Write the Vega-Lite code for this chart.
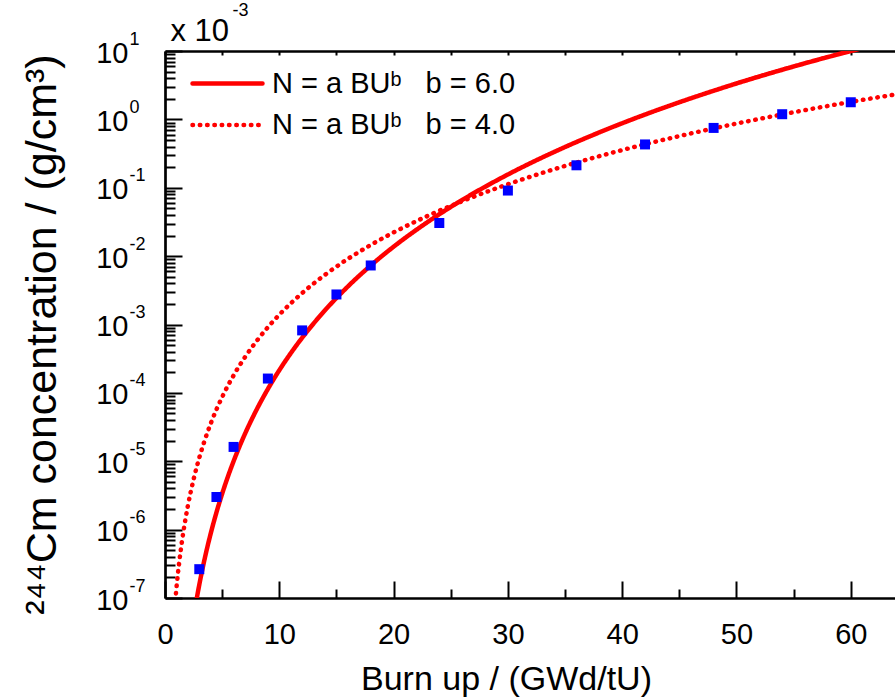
{
  "$schema": "https://vega.github.io/schema/vega-lite/v6.json",
  "width": 730,
  "height": 547,
  "autosize": {"type": "none"},
  "padding": {"left": 165, "top": 51, "right": 0, "bottom": 99},
  "datasets": {
    "curves": [
      {"fit": "N = a BUᵇ\u00a0\u00a0\u00a0b = 6.0", "burnup": 2.6, "conc": 6.62e-8},
      {"fit": "N = a BUᵇ\u00a0\u00a0\u00a0b = 6.0", "burnup": 2.8, "conc": 1.033e-7},
      {"fit": "N = a BUᵇ\u00a0\u00a0\u00a0b = 6.0", "burnup": 3.0, "conc": 1.5625e-7},
      {"fit": "N = a BUᵇ\u00a0\u00a0\u00a0b = 6.0", "burnup": 3.25, "conc": 2.526e-7},
      {"fit": "N = a BUᵇ\u00a0\u00a0\u00a0b = 6.0", "burnup": 3.5, "conc": 3.94e-7},
      {"fit": "N = a BUᵇ\u00a0\u00a0\u00a0b = 6.0", "burnup": 3.75, "conc": 5.96e-7},
      {"fit": "N = a BUᵇ\u00a0\u00a0\u00a0b = 6.0", "burnup": 4.0, "conc": 8.779e-7},
      {"fit": "N = a BUᵇ\u00a0\u00a0\u00a0b = 6.0", "burnup": 4.5, "conc": 1.78e-6},
      {"fit": "N = a BUᵇ\u00a0\u00a0\u00a0b = 6.0", "burnup": 5.0, "conc": 3.349e-6},
      {"fit": "N = a BUᵇ\u00a0\u00a0\u00a0b = 6.0", "burnup": 5.5, "conc": 5.933e-6},
      {"fit": "N = a BUᵇ\u00a0\u00a0\u00a0b = 6.0", "burnup": 6.0, "conc": 1.0e-5},
      {"fit": "N = a BUᵇ\u00a0\u00a0\u00a0b = 6.0", "burnup": 7.0, "conc": 2.522e-5},
      {"fit": "N = a BUᵇ\u00a0\u00a0\u00a0b = 6.0", "burnup": 8.0, "conc": 5.619e-5},
      {"fit": "N = a BUᵇ\u00a0\u00a0\u00a0b = 6.0", "burnup": 9.0, "conc": 1.139e-4},
      {"fit": "N = a BUᵇ\u00a0\u00a0\u00a0b = 6.0", "burnup": 10.0, "conc": 2.143e-4},
      {"fit": "N = a BUᵇ\u00a0\u00a0\u00a0b = 6.0", "burnup": 11.0, "conc": 3.797e-4},
      {"fit": "N = a BUᵇ\u00a0\u00a0\u00a0b = 6.0", "burnup": 12.0, "conc": 6.4e-4},
      {"fit": "N = a BUᵇ\u00a0\u00a0\u00a0b = 6.0", "burnup": 14.0, "conc": 1.614e-3},
      {"fit": "N = a BUᵇ\u00a0\u00a0\u00a0b = 6.0", "burnup": 16.0, "conc": 3.596e-3},
      {"fit": "N = a BUᵇ\u00a0\u00a0\u00a0b = 6.0", "burnup": 18.0, "conc": 7.29e-3},
      {"fit": "N = a BUᵇ\u00a0\u00a0\u00a0b = 6.0", "burnup": 20.0, "conc": 1.372e-2},
      {"fit": "N = a BUᵇ\u00a0\u00a0\u00a0b = 6.0", "burnup": 23.0, "conc": 3.173e-2},
      {"fit": "N = a BUᵇ\u00a0\u00a0\u00a0b = 6.0", "burnup": 26.0, "conc": 6.621e-2},
      {"fit": "N = a BUᵇ\u00a0\u00a0\u00a0b = 6.0", "burnup": 30.0, "conc": 0.15625},
      {"fit": "N = a BUᵇ\u00a0\u00a0\u00a0b = 6.0", "burnup": 34.0, "conc": 0.3311},
      {"fit": "N = a BUᵇ\u00a0\u00a0\u00a0b = 6.0", "burnup": 38.0, "conc": 0.6454},
      {"fit": "N = a BUᵇ\u00a0\u00a0\u00a0b = 6.0", "burnup": 42.0, "conc": 1.1765},
      {"fit": "N = a BUᵇ\u00a0\u00a0\u00a0b = 6.0", "burnup": 46.0, "conc": 2.0307},
      {"fit": "N = a BUᵇ\u00a0\u00a0\u00a0b = 6.0", "burnup": 50.0, "conc": 3.349},
      {"fit": "N = a BUᵇ\u00a0\u00a0\u00a0b = 6.0", "burnup": 55.0, "conc": 5.933},
      {"fit": "N = a BUᵇ\u00a0\u00a0\u00a0b = 6.0", "burnup": 60.0, "conc": 10.0},
      {"fit": "N = a BUᵇ\u00a0\u00a0\u00a0b = 6.0", "burnup": 62.0, "conc": 12.17},
      {"fit": "N = a BUᵇ\u00a0\u00a0\u00a0b = 4.0", "burnup": 0.9, "conc": 9.11e-8},
      {"fit": "N = a BUᵇ\u00a0\u00a0\u00a0b = 4.0", "burnup": 1.0, "conc": 1.389e-7},
      {"fit": "N = a BUᵇ\u00a0\u00a0\u00a0b = 4.0", "burnup": 1.25, "conc": 3.391e-7},
      {"fit": "N = a BUᵇ\u00a0\u00a0\u00a0b = 4.0", "burnup": 1.5, "conc": 7.031e-7},
      {"fit": "N = a BUᵇ\u00a0\u00a0\u00a0b = 4.0", "burnup": 1.75, "conc": 1.303e-6},
      {"fit": "N = a BUᵇ\u00a0\u00a0\u00a0b = 4.0", "burnup": 2.0, "conc": 2.222e-6},
      {"fit": "N = a BUᵇ\u00a0\u00a0\u00a0b = 4.0", "burnup": 2.5, "conc": 5.425e-6},
      {"fit": "N = a BUᵇ\u00a0\u00a0\u00a0b = 4.0", "burnup": 3.0, "conc": 1.125e-5},
      {"fit": "N = a BUᵇ\u00a0\u00a0\u00a0b = 4.0", "burnup": 3.5, "conc": 2.084e-5},
      {"fit": "N = a BUᵇ\u00a0\u00a0\u00a0b = 4.0", "burnup": 4.0, "conc": 3.556e-5},
      {"fit": "N = a BUᵇ\u00a0\u00a0\u00a0b = 4.0", "burnup": 5.0, "conc": 8.681e-5},
      {"fit": "N = a BUᵇ\u00a0\u00a0\u00a0b = 4.0", "burnup": 6.0, "conc": 1.8e-4},
      {"fit": "N = a BUᵇ\u00a0\u00a0\u00a0b = 4.0", "burnup": 7.0, "conc": 3.335e-4},
      {"fit": "N = a BUᵇ\u00a0\u00a0\u00a0b = 4.0", "burnup": 8.0, "conc": 5.689e-4},
      {"fit": "N = a BUᵇ\u00a0\u00a0\u00a0b = 4.0", "burnup": 9.0, "conc": 9.113e-4},
      {"fit": "N = a BUᵇ\u00a0\u00a0\u00a0b = 4.0", "burnup": 10.0, "conc": 1.389e-3},
      {"fit": "N = a BUᵇ\u00a0\u00a0\u00a0b = 4.0", "burnup": 12.0, "conc": 2.88e-3},
      {"fit": "N = a BUᵇ\u00a0\u00a0\u00a0b = 4.0", "burnup": 14.0, "conc": 5.335e-3},
      {"fit": "N = a BUᵇ\u00a0\u00a0\u00a0b = 4.0", "burnup": 16.0, "conc": 9.102e-3},
      {"fit": "N = a BUᵇ\u00a0\u00a0\u00a0b = 4.0", "burnup": 18.0, "conc": 1.458e-2},
      {"fit": "N = a BUᵇ\u00a0\u00a0\u00a0b = 4.0", "burnup": 20.0, "conc": 2.222e-2},
      {"fit": "N = a BUᵇ\u00a0\u00a0\u00a0b = 4.0", "burnup": 23.0, "conc": 3.887e-2},
      {"fit": "N = a BUᵇ\u00a0\u00a0\u00a0b = 4.0", "burnup": 26.0, "conc": 6.347e-2},
      {"fit": "N = a BUᵇ\u00a0\u00a0\u00a0b = 4.0", "burnup": 30.0, "conc": 0.1125},
      {"fit": "N = a BUᵇ\u00a0\u00a0\u00a0b = 4.0", "burnup": 34.0, "conc": 0.1856},
      {"fit": "N = a BUᵇ\u00a0\u00a0\u00a0b = 4.0", "burnup": 38.0, "conc": 0.2896},
      {"fit": "N = a BUᵇ\u00a0\u00a0\u00a0b = 4.0", "burnup": 42.0, "conc": 0.4322},
      {"fit": "N = a BUᵇ\u00a0\u00a0\u00a0b = 4.0", "burnup": 46.0, "conc": 0.6219},
      {"fit": "N = a BUᵇ\u00a0\u00a0\u00a0b = 4.0", "burnup": 50.0, "conc": 0.8681},
      {"fit": "N = a BUᵇ\u00a0\u00a0\u00a0b = 4.0", "burnup": 55.0, "conc": 1.2709},
      {"fit": "N = a BUᵇ\u00a0\u00a0\u00a0b = 4.0", "burnup": 60.0, "conc": 1.8},
      {"fit": "N = a BUᵇ\u00a0\u00a0\u00a0b = 4.0", "burnup": 65.0, "conc": 2.479}
    ],
    "points": [
      {"burnup": 3, "conc": 2.64e-7},
      {"burnup": 4.5, "conc": 3.0e-6},
      {"burnup": 6, "conc": 1.62e-5},
      {"burnup": 9, "conc": 1.62e-4},
      {"burnup": 12, "conc": 8.2e-4},
      {"burnup": 15, "conc": 2.75e-3},
      {"burnup": 18, "conc": 7.3e-3},
      {"burnup": 24, "conc": 3.05e-2},
      {"burnup": 30, "conc": 9.1e-2},
      {"burnup": 36, "conc": 0.213},
      {"burnup": 42, "conc": 0.43},
      {"burnup": 48, "conc": 0.75},
      {"burnup": 54, "conc": 1.19},
      {"burnup": 60, "conc": 1.78}
    ]
  },
  "layer": [
    {
      "data": {"name": "curves"},
      "mark": {"type": "line", "clip": true, "strokeWidth": 4.5, "strokeCap": "round", "interpolate": "monotone"},
      "encoding": {
        "x": {"field": "burnup", "type": "quantitative",
          "scale": {"domain": [0, 63.87], "nice": false, "zero": false},
          "axis": {"orient": "bottom", "values": [0, 10, 20, 30, 40, 50, 60], "format": "d", "tickSize": -17, "tickWidth": 2, "domainWidth": 2.7, "labelFontSize": 29, "labelPadding": 39, "labelFlush": false, "labelOverlap": false,
            "title": "Burn up / (GWd/tU)", "titleFontSize": 34, "titleX": 341, "titleY": 91, "titleBaseline": "alphabetic", "titleAlign": "center", "titleAnchor": null}},
        "y": {"field": "conc", "type": "quantitative",
          "scale": {"type": "log", "domain": [1e-7, 10], "nice": false},
          "axis": {"orient": "left", "values": [1e-7, 1e-6, 1e-5, 1e-4, 1e-3, 1e-2, 1e-1, 1, 10], "tickSize": -17, "tickWidth": 2, "domainWidth": 2.7, "labelFontSize": 29, "labelPadding": 54, "labelOffset": 2, "labelFlush": false, "labelOverlap": false,
            "labelExpr": "'10'",
            "title": "²⁴⁴Cm concentration / (g/cm³)", "titleFontSize": 43, "titleAngle": 270, "titleX": -110, "titleY": 283, "titleBaseline": "alphabetic", "titleAlign": "center", "titleAnchor": null}},
        "color": {"field": "fit", "type": "nominal",
          "scale": {"domain": ["N = a BUᵇ\u00a0\u00a0\u00a0b = 6.0", "N = a BUᵇ\u00a0\u00a0\u00a0b = 4.0"], "range": ["#ff0000", "#ff0000"]},
          "legend": {"title": null, "orient": "none", "legendX": 46, "legendY": 16, "symbolType": "M-2.5,0H2.5", "symbolSize": 784, "symbolStrokeWidth": 4.5, "labelFontSize": 29, "labelOffset": 28, "rowPadding": 9.5, "padding": 0, "labelLimit": 400,
            "encode": {"symbols": {"update": {"strokeCap": {"value": "round"}}}}}},
        "strokeDash": {"field": "fit", "type": "nominal",
          "scale": {"domain": ["N = a BUᵇ\u00a0\u00a0\u00a0b = 6.0", "N = a BUᵇ\u00a0\u00a0\u00a0b = 4.0"], "range": [[1, 0], [0.5, 6.8]]},
          "legend": {"title": null, "orient": "none", "legendX": 46, "legendY": 16, "symbolType": "M-2.5,0H2.5", "symbolSize": 784, "symbolStrokeWidth": 4.5, "labelFontSize": 29, "labelOffset": 28, "rowPadding": 9.5, "padding": 0, "labelLimit": 400,
            "encode": {"symbols": {"update": {"strokeCap": {"value": "round"}}}}}}
      }
    },
    {
      "data": {"name": "points"},
      "mark": {"type": "square", "size": 100, "color": "#0000ff", "opacity": 1},
      "encoding": {
        "x": {"field": "burnup", "type": "quantitative",
          "axis": {"orient": "bottom", "values": [5, 15, 25, 35, 45, 55], "tickSize": -9, "tickWidth": 2, "domain": false, "labels": false, "title": null}},
        "y": {"field": "conc", "type": "quantitative",
          "axis": {"orient": "left", "tickSize": -10, "tickWidth": 2, "domain": false, "labels": false,
            "title": "-3", "titleFontSize": 18, "titleAngle": 0, "titleX": 67, "titleY": -36, "titleAlign": "left", "titleBaseline": "alphabetic", "titleAnchor": null,
            "values": [2e-7, 3e-7, 4e-7, 5e-7, 6e-7, 7e-7, 8e-7, 9e-7, 2e-6, 3e-6, 4e-6, 5e-6, 6e-6, 7e-6, 8e-6, 9e-6, 2e-5, 3e-5, 4e-5, 5e-5, 6e-5, 7e-5, 8e-5, 9e-5, 2e-4, 3e-4, 4e-4, 5e-4, 6e-4, 7e-4, 8e-4, 9e-4, 2e-3, 3e-3, 4e-3, 5e-3, 6e-3, 7e-3, 8e-3, 9e-3, 0.02, 0.03, 0.04, 0.05, 0.06, 0.07, 0.08, 0.09, 0.2, 0.3, 0.4, 0.5, 0.6, 0.7, 0.8, 0.9, 2, 3, 4, 5, 6, 7, 8, 9]}}
      }
    },
    {
      "data": {"name": "points"},
      "mark": {"type": "point", "opacity": 0},
      "encoding": {
        "x": {"field": "burnup", "type": "quantitative",
          "axis": {"orient": "top", "values": [0, 5, 10, 15, 20, 25, 30, 35, 40, 45, 50, 55, 60], "tickSize": -4, "tickWidth": 2, "domainWidth": 2.7, "labels": false,
            "title": "x 10", "titleFontSize": 31, "titleX": 5, "titleY": -11, "titleAlign": "left", "titleBaseline": "alphabetic", "titleAnchor": null}},
        "y": {"field": "conc", "type": "quantitative",
          "axis": {"orient": "left", "values": [1e-7, 1e-6, 1e-5, 1e-4, 1e-3, 1e-2, 1e-1, 1, 10], "domain": false, "ticks": true, "tickSize": 0, "tickOpacity": 0, "labelFontSize": 18, "labelAlign": "left", "labelBaseline": "middle", "labelPadding": 36, "labelOffset": -12, "labelFlush": false, "labelOverlap": false, "title": null,
            "labelExpr": "datum.value > 5 ? '1' : datum.value > 0.5 ? '0' : datum.value > 0.05 ? '-1' : datum.value > 0.005 ? '-2' : datum.value > 0.0005 ? '-3' : datum.value > 0.00005 ? '-4' : datum.value > 0.000005 ? '-5' : datum.value > 0.0000005 ? '-6' : '-7'"}}
      }
    }
  ],
  "resolve": {"axis": {"x": "independent", "y": "independent"}},
  "config": {
    "view": {"stroke": null},
    "font": "Liberation Sans",
    "axis": {"domainColor": "black", "tickColor": "black", "labelColor": "black", "titleColor": "black", "grid": false, "titleFontWeight": "normal", "labelFont": "Liberation Sans", "titleFont": "Liberation Sans"},
    "legend": {"labelColor": "black", "labelFont": "Liberation Sans"}
  }
}
